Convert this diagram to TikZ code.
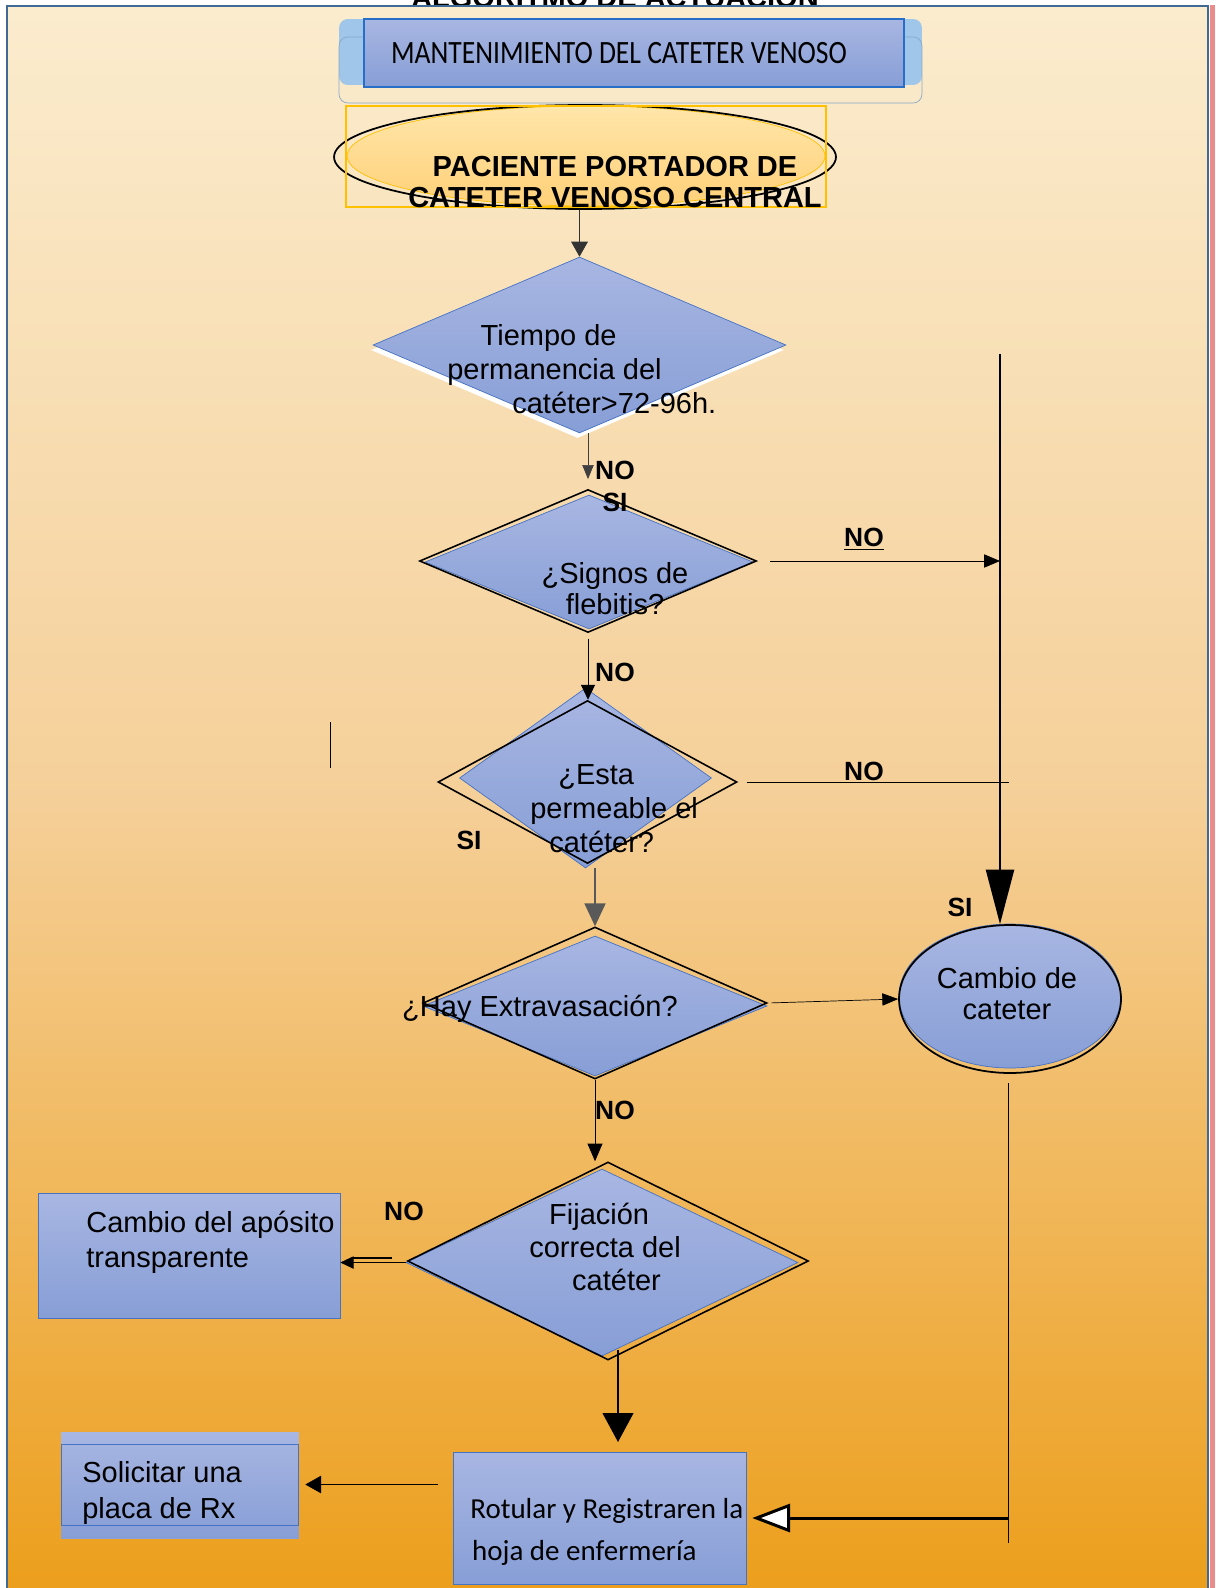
\documentclass[tikz,border=0pt]{standalone}
\usepackage{fontspec}
\setmainfont{Liberation Sans}
\newfontfamily\calibri{Carlito}
\usepackage{xcolor}
\usepackage{tikz}
\usetikzlibrary{arrows.meta, positioning, shapes.geometric}
\definecolor{bgtop}{RGB}{251,236,206}
\definecolor{bgmid}{RGB}{245,207,152}
\definecolor{bgbot}{RGB}{236,158,26}
\definecolor{boxtop}{RGB}{168,182,226}
\definecolor{boxbot}{RGB}{135,158,214}
\definecolor{boxedge}{RGB}{68,114,196}
\definecolor{titleedge}{RGB}{40,110,200}
\definecolor{frameedge}{RGB}{65,105,150}
\definecolor{capsule}{RGB}{160,198,234}
\definecolor{ovaltop}{RGB}{255,230,170}
\definecolor{ovalbot}{RGB}{255,208,120}
\definecolor{ovaledge}{RGB}{255,192,0}
\definecolor{strip}{RGB}{232,140,140}
\newcommand{\fsbody}{\fontsize{16.5}{19.3}\selectfont}
\newcommand{\fsbold}{\bfseries\fontsize{16.5}{17.6}\selectfont}
\newcommand{\fslabel}{\bfseries\fontsize{15}{18}\selectfont}
\newcommand{\fscal}{\calibri\fontsize{16.5}{24}\selectfont}

\begin{document}
\begin{tikzpicture}[x=0.02cm, y=-0.02cm,
  flow/.style={top color=boxtop, bottom color=boxbot, draw=boxedge, inner sep=0pt},
  dia/.style={diamond, flow},
  dialine/.style={diamond, draw=black, line width=0.9pt, inner sep=0pt},
  box/.style={rectangle, flow},
  tx/.style={font=\fsbody, inner sep=0pt},
  yesno/.style={font=\fslabel, inner sep=0pt}]
  \useasboundingbox (0,0) rectangle (1215,1588);
  % heading, cut by the frame
  \node[font=\fsbold, anchor=base, inner sep=0pt] (algo) at (615,8) {ALGORITMO DE ACTUACIÓN};
  \shade[top color=bgtop, bottom color=bgbot, middle color=bgmid] (7,6) rectangle (1208,1600);
  \draw[frameedge, line width=1pt] (7,1600) -- (7,6) -- (1208,6) -- (1208,1600);
  \fill[strip] (1210,5) rectangle (1215,1600);

  % title
  \node[fill=capsule, rounded corners=5pt, minimum width=11.66cm, minimum height=1.32cm] (capfill) at (630.5,52) {};
  \node[draw=capsule!85!black, rounded corners=5pt, minimum width=11.66cm, minimum height=1.32cm] (capline) at (630.5,70) {};
  \node[box, draw=titleedge, line width=1pt, minimum width=10.8cm, minimum height=1.36cm] (titlebox) at (634,53) {};
  \node[inner sep=0pt] (titletext) at (619,53)
    {\scalebox{1}[1.18]{\calibri\fontsize{15.7}{18}\selectfont MANTENIMIENTO DEL CATETER VENOSO}};

  % start oval
  \node[ellipse, draw=ovaledge, top color=ovaltop, bottom color=ovalbot, minimum width=9.56cm, minimum height=2cm] (ovalfill) at (586,156) {};
  \node[ellipse, draw=black, line width=1pt, minimum width=10.04cm, minimum height=2.08cm] (oval) at (585,157) {};
  \node[draw=ovaledge, line width=0.8pt, minimum width=9.6cm, minimum height=2.02cm] (ovalframe) at (586,156.5) {};
  \node[font=\fsbold, align=center, inner sep=0pt] (ovaltext) at (615,182) {PACIENTE PORTADOR DE\\CATETER VENOSO CENTRAL};

  % decisions
  \node[diamond, fill=white, inner sep=0pt, minimum width=8.26cm, minimum height=3.52cm] (d1shadow) at (577.5,350) {};
  \node[dia, minimum width=8.26cm, minimum height=3.52cm] (d1) at (579.5,345) {};
  \node[tx, align=left, anchor=west] (d1text) at (447,369)
    {\hspace*{19pt}Tiempo de\\permanencia del\\\hspace*{37pt}catéter>72-96h.};

  \node[dia, minimum width=6.56cm, minimum height=2.68cm] (d2f) at (589,562) {};
  \node[dialine, minimum width=6.74cm, minimum height=2.86cm] (d2) at (588,561) {};
  \node[tx, align=center, font=\fontsize{16.5}{17.6}\selectfont] (d2text) at (615,589) {¿Signos de\\flebitis?};

  \node[dia, minimum width=5.04cm, minimum height=3.6cm] (d3f) at (585.5,778) {};
  \node[dialine, minimum width=5.98cm, minimum height=3.26cm] (d3) at (587.5,782) {};
  \node[tx, align=left, anchor=west] (d3text) at (530,809)
    {\hspace*{15.9pt}¿Esta\\permeable el\\\hspace*{10.8pt}catéter?};

  \node[dia, minimum width=6.88cm, minimum height=2.8cm] (d4f) at (595,1006) {};
  \node[dialine, minimum width=6.88cm, minimum height=3.04cm] (d4) at (595,1003) {};
  \node[tx] (d4text) at (540,1009) {¿Hay Extravasación?};

  \node[dia, minimum width=7.84cm, minimum height=3.74cm] (d5f) at (602,1262.5) {};
  \node[dialine, minimum width=8.02cm, minimum height=3.96cm] (d5) at (608,1261) {};
  \node[tx, align=left, anchor=west, font=\fontsize{16.5}{18.7}\selectfont] (d5text) at (529,1247)
    {\hspace*{11.3pt}Fijación\\correcta del\\\hspace*{24.4pt}catéter};

  % actions
  \node[ellipse, flow, minimum width=4.44cm, minimum height=2.88cm] (cambiof) at (1010,996) {};
  \node[ellipse, draw=black, line width=1pt, minimum width=4.44cm, minimum height=2.96cm] (cambio) at (1010,999) {};
  \node[tx, align=center, font=\fontsize{16.5}{17.6}\selectfont] (cambiotext) at (1007,994) {Cambio de\\cateter};

  \node[box, minimum width=6.04cm, minimum height=2.5cm] (aposito) at (189,1255.5) {};
  \node[tx, align=left, anchor=west, font=\fontsize{16.5}{19.8}\selectfont] (apositotext) at (86,1242) {Cambio del apósito\\transparente};

  \node[rectangle, top color=boxtop, bottom color=boxbot, minimum width=4.76cm, minimum height=2.12cm] (solback) at (180,1485) {};
  \node[draw=boxedge, minimum width=4.74cm, minimum height=1.62cm] (solicitar) at (179.5,1484.5) {};
  \node[tx, align=left, anchor=west, font=\fontsize{16.5}{21}\selectfont] (solicitartext) at (82,1493) {Solicitar una\\placa de Rx};

  \node[box, minimum width=5.86cm, minimum height=2.64cm] (rotular) at (599.5,1518) {};
  \node[font=\fscal, align=left, anchor=west, inner sep=0pt] (rotulartext) at (470,1532) {Rotular y Registraren la\\\hspace*{1pt}hoja de enfermería};

  % answers
  \node[yesno] (no1) at (615,470) {NO};
  \node[yesno] (si1) at (615,502) {SI};
  \node[yesno] (no2) at (864,539) {\underline{NO}};
  \node[yesno] (no3) at (615,672) {NO};
  \node[yesno] (no4) at (864,771) {NO};
  \node[yesno] (si2) at (469,840) {SI};
  \node[yesno] (si3) at (960,907) {SI};
  \node[yesno] (no5) at (615,1110) {NO};
  \node[yesno] (no6) at (404,1211) {NO};

  % connectors
  \coordinate (railtop) at (1000,354);
  \coordinate (d3end) at (1009,781);
  \coordinate (fixout) at (618,1350);
  \coordinate (backtop) at (1008,1083);
  \coordinate (backend) at (1008,1543);
  \draw[-{Triangle[length=8.5pt,width=9.5pt]}, black!80] (d1.north |- oval.south) -- (d1.north);
  \draw[-{Triangle[length=8pt,width=6.5pt]}, black!75, shorten >=5.5pt] (d1.south -| d2.north) -- (d2.north);
  \draw[-{Triangle[length=9pt,width=7.5pt]}, shorten <=7.5pt] (d2.east) -- (d2.east -| railtop);
  \draw[-{Triangle[length=31pt,width=16pt]}, line width=1.1pt] (railtop) -- (railtop |- cambio.north);
  \draw[-{Triangle[length=8.5pt,width=8pt]}, shorten <=3pt] (d2.south) -- (d2.south |- d3.north);
  \draw[shorten <=5pt] (d3.east) -- (d3.east -| d3end);
  \draw[-{Triangle[length=13pt,width=12pt]}, black!65, line width=0.8pt] (d3f.south -| d4.north) -- (d4.north);
  \draw[-{Triangle[length=9pt,width=7pt]}, shorten <=2pt] (d4.east) -- (cambio.west);
  \draw[-{Triangle[length=10pt,width=8.5pt]}] (d4.south) -- (d4.south |- d5.north);
  \draw[-{Triangle[length=7.5pt,width=7pt]}] (d5f.west) -- (d5f.west -| aposito.east);
  \draw[line width=1.2pt] (d5f.west) ++(-14,-4.5) -- ++(-40,0);
  \draw[-{Triangle[length=16.5pt,width=17.5pt]}, line width=1.1pt, shorten >=5.5pt] (fixout) -- (fixout |- rotular.north);
  \draw[-{Triangle[length=9pt,width=10pt]}, shorten <=8.5pt, shorten >=4pt] (solicitar.east -| rotular.west) -- (solicitar.east);
  \draw (backtop) -- (backend);
  \draw[-{Triangle[length=21.5pt,width=16pt,fill=white]}, line width=1.7pt, shorten >=3.4pt] (rotular.east -| backtop) -- (rotular.east);
  \draw (330,722) -- (330,768);
\end{tikzpicture}
\end{document}
